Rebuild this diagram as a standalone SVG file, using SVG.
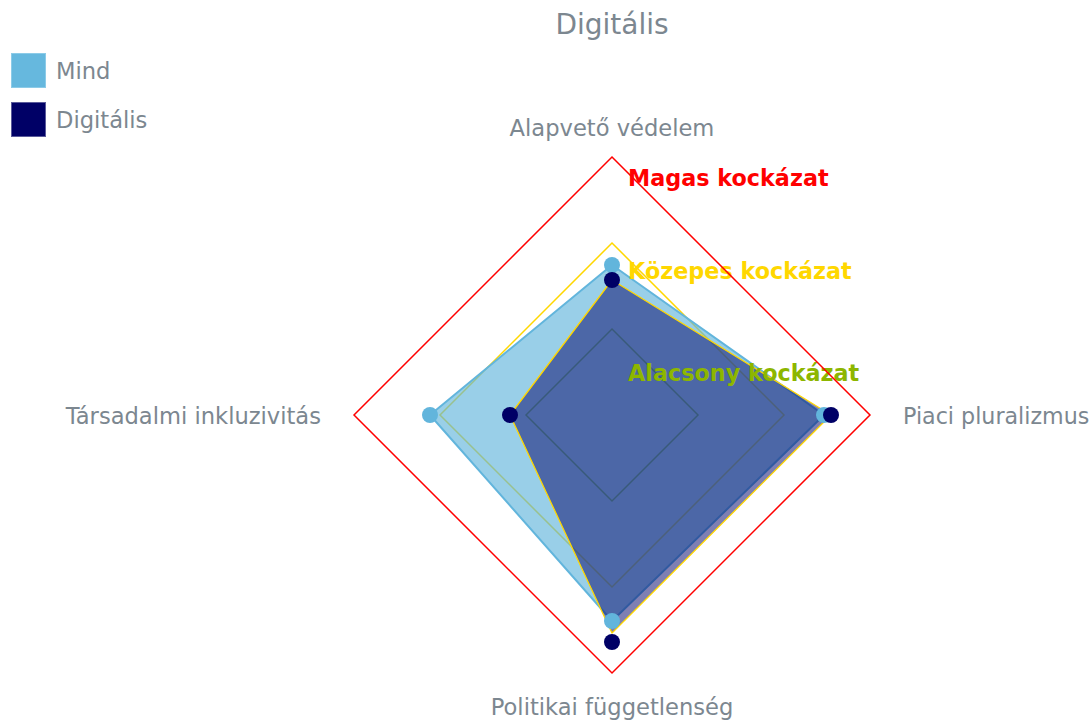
<svg xmlns="http://www.w3.org/2000/svg" width="1091" height="720" viewBox="0 0 1091 720">
<style>
.lbl{font-family:"DejaVu Sans","Verdana",sans-serif;font-size:22.6px;fill:#7c8790}
.lblr{font-family:"DejaVu Sans","Verdana",sans-serif;font-size:22.2px;fill:#7c8790}
.ttl{font-family:"DejaVu Sans","Verdana",sans-serif;font-size:28px;fill:#7c8790}
.risk{font-family:"DejaVu Sans","Verdana",sans-serif;font-size:22.3px;font-weight:bold}
.grid{fill:none;stroke-width:1.5}
.mind{fill:#62B5DC}
.dig{fill:#000066}
</style>
<rect width="1091" height="720" fill="#ffffff"/>
<text class="ttl" x="612" y="34" text-anchor="middle">Digitális</text>
<g id="legend">
<rect x="11.5" y="53.5" width="34" height="34" fill="#66B8DE" stroke="#8ccbe8" stroke-width="1"/>
<text class="lbl" x="56" y="79">Mind</text>
<rect x="11.5" y="102.5" width="34" height="34" fill="#000066" stroke="#5a5a9a" stroke-width="1"/>
<text class="lbl" x="56" y="128">Digitális</text>
</g>
<g id="risk-grid">
<polygon class="grid" stroke="#8DB600" points="612,329 698,415 612,501 526,415"/>
<polygon class="grid" stroke="#FFD700" points="612,243 784,415 612,587 440,415"/>
</g>
<g id="series-mind">
<polygon fill="#62B5DC" fill-opacity="0.65" stroke="#62B5DC" stroke-width="2" stroke-linejoin="round" points="612,265 824,415 612,621 430,415"/>
</g>
<g id="series-digitalis">
<polygon fill="#000066" fill-opacity="0.5" stroke="#FFD700" stroke-width="1.3" stroke-linejoin="round" points="612,280 831,415 612,633 510,415"/>
</g>
<g id="markers">
<circle class="mind" cx="612" cy="265" r="8"/>
<circle class="mind" cx="824" cy="415" r="8"/>
<circle class="mind" cx="612" cy="621" r="8"/>
<circle class="mind" cx="430" cy="415" r="8"/>
<circle class="dig" cx="612" cy="280" r="8"/>
<circle class="dig" cx="831" cy="415" r="8"/>
<circle class="dig" cx="612" cy="642" r="8"/>
<circle class="dig" cx="510" cy="415" r="8"/>
</g>
<g id="risk-labels">
<text class="risk" x="628" y="186" fill="#FF0000">Magas kockázat</text>
<text class="risk" x="628" y="279" fill="#FFD700">Közepes kockázat</text>
<text class="risk" x="628" y="381" fill="#8DB600">Alacsony kockázat</text>
</g>
<g id="risk-high">
<polygon class="grid" stroke="#FF0000" points="612,157 870,415 612,673 354,415"/>
</g>
<g id="axis-labels">
<text class="lbl" x="612" y="136" text-anchor="middle">Alapvető védelem</text>
<text class="lblr" x="903" y="424">Piaci pluralizmus</text>
<text class="lbl" x="612" y="715" text-anchor="middle">Politikai függetlenség</text>
<text class="lbl" x="321" y="424" text-anchor="end">Társadalmi inkluzivitás</text>
</g>
</svg>
